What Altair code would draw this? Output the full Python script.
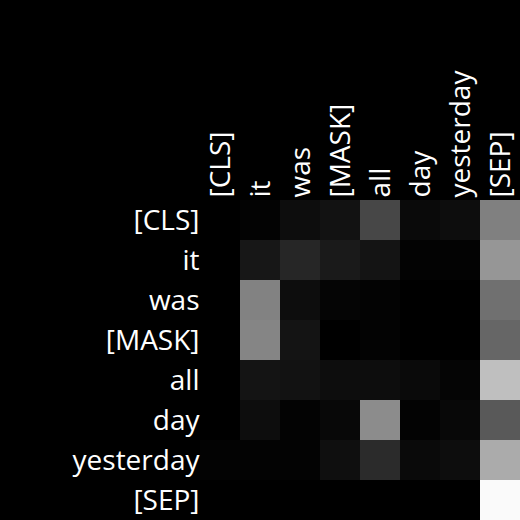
import altair as alt
import pandas as pd

tokens = ["[CLS]", "it", "was", "[MASK]", "all", "day", "yesterday", "[SEP]"]

# attention weights (row = query token, columns = key tokens), read from grey levels
row_cls = [0.00, 0.01, 0.05, 0.07, 0.28, 0.04, 0.05, 0.50]
row_it = [0.00, 0.09, 0.15, 0.10, 0.08, 0.01, 0.01, 0.59]
row_was = [0.00, 0.51, 0.05, 0.02, 0.01, 0.00, 0.00, 0.44]
row_mask = [0.00, 0.52, 0.08, 0.00, 0.01, 0.00, 0.00, 0.40]
row_all = [0.00, 0.08, 0.07, 0.05, 0.05, 0.04, 0.02, 0.75]
row_day = [0.00, 0.05, 0.01, 0.03, 0.55, 0.01, 0.03, 0.35]
row_yesterday = [0.01, 0.01, 0.01, 0.06, 0.17, 0.04, 0.05, 0.67]
row_sep = [0.00, 0.00, 0.00, 0.00, 0.00, 0.00, 0.00, 0.98]

rows = [row_cls, row_it, row_was, row_mask, row_all, row_day, row_yesterday, row_sep]

records = []
for i, q in enumerate(tokens):
    for j, k in enumerate(tokens):
        records.append({"query": q, "key": k, "weight": rows[i][j]})
df = pd.DataFrame(records)

chart = alt.Chart(df).mark_rect().encode(
    x=alt.X("key:N", sort=tokens, title=None,
            axis=alt.Axis(orient="top", labelAngle=-90, domain=False, ticks=False,
                          labelPadding=3, labelFontSize=28, labelColor="white",
                          labelFont="Open Sans", labelLimit=300, labelOverlap=False,
                          labelAlign="left", labelBaseline="middle", labelOffset=2)),
    y=alt.Y("query:N", sort=tokens, title=None,
            axis=alt.Axis(domain=False, ticks=False, labelPadding=1, labelFontSize=28,
                          labelColor="white", labelFont="Open Sans", labelLimit=300,
                          labelOverlap=False, labelOffset=2)),
    color=alt.Color("weight:Q", legend=None,
                    scale=alt.Scale(domain=[0, 1], range=["#000000", "#ffffff"],
                                    interpolate="rgb")),
).properties(
    width=320, height=320,
    padding={"left": 200, "top": 200, "right": 0, "bottom": 0},
    autosize=alt.AutoSizeParams(type="none"),
    background="black",
).configure_view(stroke=None).configure_scale(bandPaddingInner=0, bandPaddingOuter=0)

chart.save("out.html", embed_options={"renderer": "svg", "actions": False})
